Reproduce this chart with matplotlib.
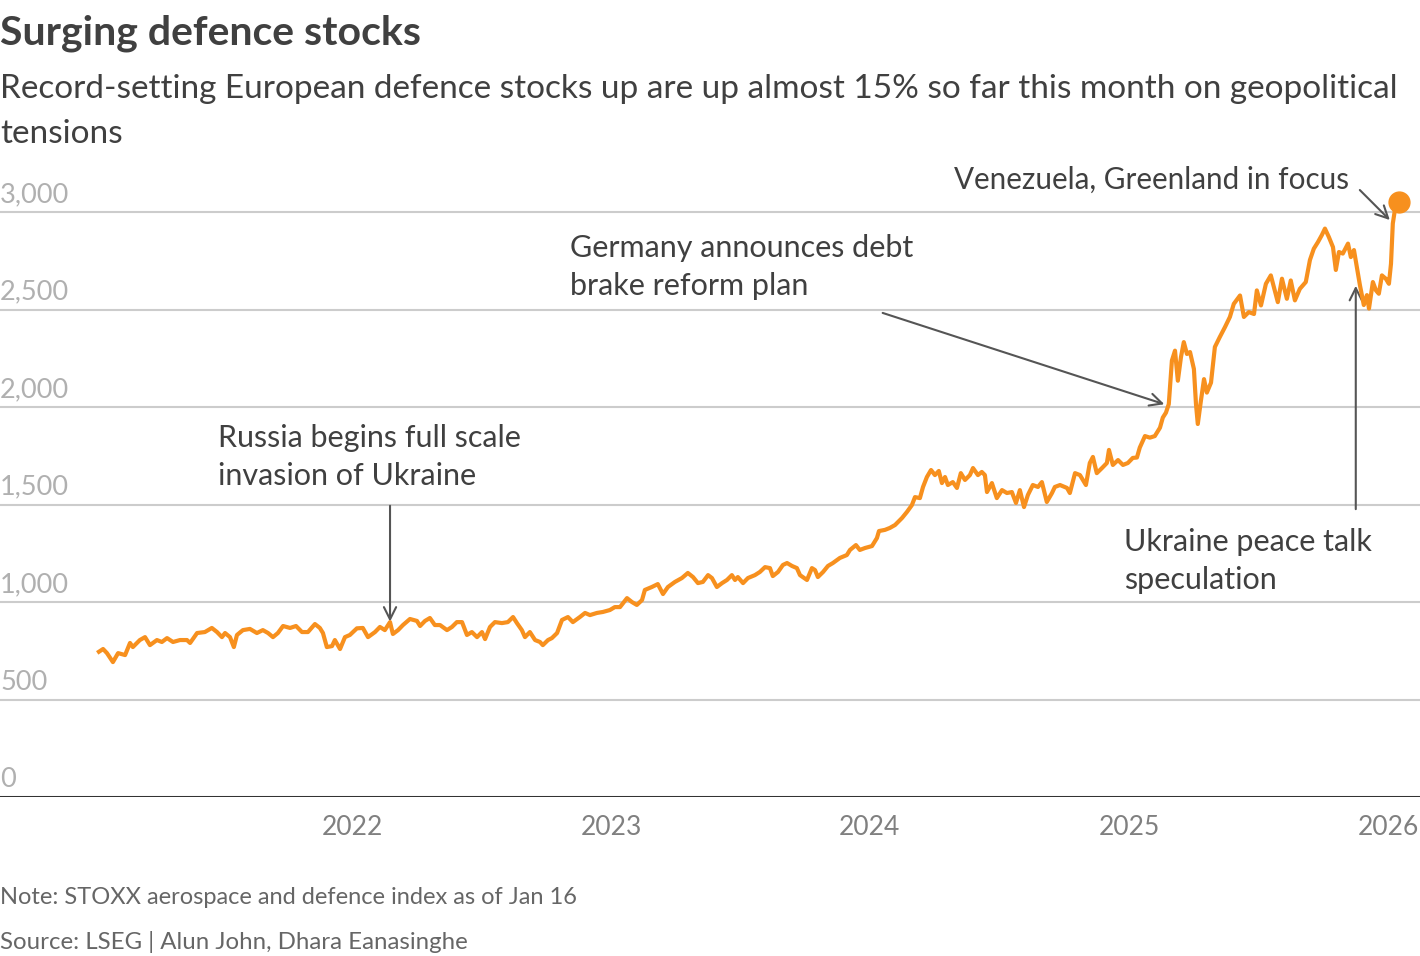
from matplotlib import pyplot as plt
import numpy as np

# STOXX aerospace & defence index (decimal year, level)
years = [
    2021.023, 2021.039, 2021.054, 2021.077, 2021.097, 2021.124, 2021.143, 2021.154, 2021.181, 2021.201,
    2021.220, 2021.247, 2021.266, 2021.286, 2021.309, 2021.336, 2021.363, 2021.375, 2021.402, 2021.432,
    2021.459, 2021.479, 2021.498, 2021.510, 2021.529, 2021.544, 2021.556, 2021.579, 2021.606, 2021.633,
    2021.656, 2021.676, 2021.695, 2021.714, 2021.734, 2021.761, 2021.784, 2021.807, 2021.830, 2021.857,
    2021.876, 2021.888, 2021.903, 2021.923, 2021.934, 2021.954, 2021.973, 2021.992, 2022.019, 2022.042,
    2022.062, 2022.089, 2022.108, 2022.127, 2022.147, 2022.158, 2022.178, 2022.197, 2022.224, 2022.251,
    2022.263, 2022.282, 2022.301, 2022.320, 2022.340, 2022.367, 2022.386, 2022.405, 2022.425, 2022.444,
    2022.463, 2022.483, 2022.502, 2022.514, 2022.533, 2022.552, 2022.579, 2022.602, 2022.622, 2022.637,
    2022.656, 2022.668, 2022.687, 2022.707, 2022.726, 2022.737, 2022.757, 2022.772, 2022.792, 2022.811,
    2022.834, 2022.853, 2022.880, 2022.900, 2022.919, 2022.946, 2022.969, 2022.996, 2023.015, 2023.035,
    2023.062, 2023.081, 2023.100, 2023.120, 2023.131, 2023.158, 2023.181, 2023.201, 2023.220, 2023.247,
    2023.274, 2023.297, 2023.317, 2023.336, 2023.355, 2023.375, 2023.390, 2023.409, 2023.429, 2023.448,
    2023.467, 2023.479, 2023.490, 2023.510, 2023.529, 2023.556, 2023.575, 2023.595, 2023.614, 2023.625,
    2023.645, 2023.664, 2023.680, 2023.699, 2023.718, 2023.730, 2023.741, 2023.757, 2023.776, 2023.788,
    2023.799, 2023.819, 2023.838, 2023.857, 2023.884, 2023.911, 2023.923, 2023.946, 2023.961, 2023.981,
    2024.008, 2024.027, 2024.035, 2024.058, 2024.077, 2024.097, 2024.124, 2024.143, 2024.162, 2024.174,
    2024.193, 2024.205, 2024.220, 2024.236, 2024.251, 2024.266, 2024.278, 2024.290, 2024.301, 2024.320,
    2024.336, 2024.351, 2024.367, 2024.386, 2024.398, 2024.417, 2024.432, 2024.444, 2024.452, 2024.471,
    2024.490, 2024.510, 2024.529, 2024.548, 2024.564, 2024.579, 2024.595, 2024.610, 2024.629, 2024.649,
    2024.664, 2024.683, 2024.703, 2024.714, 2024.734, 2024.761, 2024.772, 2024.792, 2024.811, 2024.834,
    2024.849, 2024.861, 2024.876, 2024.896, 2024.915, 2024.923, 2024.938, 2024.958, 2024.977, 2024.996,
    2025.015, 2025.031, 2025.042, 2025.062, 2025.081, 2025.100, 2025.120, 2025.131, 2025.143, 2025.154,
    2025.166, 2025.178, 2025.189, 2025.201, 2025.212, 2025.224, 2025.236, 2025.251, 2025.259, 2025.266,
    2025.278, 2025.290, 2025.301, 2025.317, 2025.332, 2025.351, 2025.371, 2025.390, 2025.405, 2025.429,
    2025.444, 2025.463, 2025.483, 2025.494, 2025.510, 2025.529, 2025.548, 2025.560, 2025.575, 2025.591,
    2025.610, 2025.625, 2025.641, 2025.660, 2025.683, 2025.699, 2025.714, 2025.730, 2025.745, 2025.757,
    2025.772, 2025.788, 2025.799, 2025.811, 2025.826, 2025.846, 2025.857, 2025.869, 2025.880, 2025.892,
    2025.907, 2025.919, 2025.927, 2025.942, 2025.954, 2025.965, 2025.977, 2025.992, 2026.004, 2026.012,
    2026.019, 2026.027, 2026.042,
]
index = [
    745, 759, 738, 692, 738, 728, 790, 769, 805, 820,
    779, 805, 795, 815, 795, 805, 805, 790, 841, 846,
    867, 846, 820, 841, 820, 769, 831, 856, 862, 841,
    856, 841, 820, 841, 877, 867, 877, 846, 846, 887,
    867, 841, 769, 774, 805, 759, 820, 831, 865, 867,
    820, 846, 872, 856, 897, 836, 856, 882, 913, 903,
    877, 903, 918, 882, 882, 856, 872, 897, 897, 831,
    846, 820, 846, 810, 872, 897, 892, 897, 923, 892,
    856, 820, 846, 805, 795, 779, 805, 815, 841, 908,
    923, 897, 923, 944, 933, 944, 949, 959, 974, 974,
    1020, 1000, 985, 1010, 1062, 1077, 1092, 1041, 1077, 1103,
    1123, 1149, 1128, 1097, 1103, 1138, 1123, 1077, 1097, 1113,
    1138, 1113, 1128, 1097, 1123, 1138, 1154, 1179, 1174, 1133,
    1154, 1190, 1200, 1185, 1174, 1138, 1128, 1113, 1174, 1164,
    1128, 1154, 1185, 1200, 1226, 1241, 1267, 1292, 1267, 1277,
    1287, 1328, 1364, 1370, 1380, 1395, 1431, 1462, 1497, 1538,
    1533, 1590, 1641, 1677, 1651, 1672, 1610, 1641, 1600, 1615,
    1585, 1661, 1626, 1651, 1687, 1651, 1667, 1651, 1564, 1610,
    1533, 1574, 1559, 1564, 1508, 1574, 1487, 1549, 1600, 1590,
    1615, 1513, 1559, 1590, 1600, 1585, 1559, 1661, 1651, 1600,
    1713, 1744, 1661, 1687, 1713, 1780, 1703, 1728, 1703, 1713,
    1739, 1741, 1792, 1851, 1843, 1851, 1894, 1946, 1971, 2015,
    2238, 2289, 2135, 2256, 2333, 2272, 2282, 2195, 2015, 1913,
    2032, 2143, 2074, 2125, 2308, 2359, 2410, 2462, 2529, 2572,
    2462, 2487, 2477, 2598, 2521, 2632, 2675, 2615, 2538, 2658,
    2555, 2649, 2547, 2606, 2641, 2754, 2812, 2846, 2882, 2915,
    2872, 2820, 2703, 2795, 2787, 2838, 2769, 2805, 2718, 2625,
    2523, 2574, 2505, 2641, 2598, 2581, 2675, 2658, 2632, 2735,
    2941, 3010, 3052,
]

y_ticks = [0, 500, 1000, 1500, 2000, 2500, 3000]
y_labels = ['0', '500', '1,000', '1,500', '2,000', '2,500', '3,000']
x_ticks = [2022, 2023, 2024, 2025, 2026]

orange = '#f7901e'
dark = '#404040'

plt.rcParams['font.family'] = ['Lato', 'DejaVu Sans']

fig = plt.figure(figsize=(14.2, 9.56), dpi=100)
ax = fig.add_axes([0, 0.1663, 1, 0.6527])
ax.set_xlim(2020.641, 2026.124)
ax.set_ylim(0, 3200)

for v in y_ticks[1:]:
    ax.axhline(v, color='#cccccc', lw=1.5, zorder=1)
ax.axhline(0, color='#333333', lw=2.2, zorder=3)
for v, lab in zip(y_ticks, y_labels):
    ax.text(0.0, v + 25, lab, transform=ax.get_yaxis_transform(), ha='left', va='bottom',
            fontsize=19.5, color='#b0b0b0')

ax.plot(years, index, color=orange, lw=3.0, zorder=4, solid_joinstyle='round')
ax.plot(years[-1], index[-1], 'o', color=orange, ms=15, zorder=5)

ax.set_yticks([])
ax.set_xticks(x_ticks)
ax.set_xticklabels([str(x) for x in x_ticks], fontsize=19, color='#808080')
ax.tick_params(axis='x', length=0, pad=13)
for s in ax.spines.values():
    s.set_visible(False)

arrow = dict(arrowstyle='->', color='#555555', lw=1.5, mutation_scale=22)
ann_kw = dict(fontsize=22, color=dark, linespacing=1.42)

ax.annotate('', xy=(2022.147, 885), xytext=(2022.147, 1508), arrowprops=arrow)
ax.text(2021.483, 1744, 'Russia begins full scale\ninvasion of Ukraine', ha='left', va='center', **ann_kw)

ax.annotate('', xy=(2025.147, 2010), xytext=(2024.039, 2487), arrowprops=arrow)
ax.text(2022.842, 2718, 'Germany announces debt\nbrake reform plan', ha='left', va='center', **ann_kw)

ax.annotate('', xy=(2025.876, 2636), xytext=(2025.876, 1462), arrowprops=arrow)
ax.text(2024.981, 1211, 'Ukraine peace talk\nspeculation', ha='left', va='center', **ann_kw)

ax.annotate('', xy=(2026.015, 2949), xytext=(2025.884, 3123), arrowprops=arrow)
ax.text(2025.849, 3164, 'Venezuela, Greenland in focus', ha='right', va='center', fontsize=21.3,
        color=dark)

fig.text(0.0, 0.9655, 'Surging defence stocks', fontsize=29.5, fontweight='bold', color=dark,
         ha='left', va='center')
fig.text(0.0, 0.8835, 'Record-setting European defence stocks up are up almost 15% so far this month on geopolitical\ntensions',
         fontsize=24.0, color=dark, ha='left', va='center', linespacing=1.6)
fig.text(0.0, 0.0607, 'Note: STOXX aerospace and defence index as of Jan 16', fontsize=17.0,
         color='#666666', ha='left', va='center')
fig.text(0.0, 0.0146, 'Source: LSEG | Alun John, Dhara Eanasinghe', fontsize=17.3,
         color='#666666', ha='left', va='center')

fig.savefig('out.png', dpi=100)
